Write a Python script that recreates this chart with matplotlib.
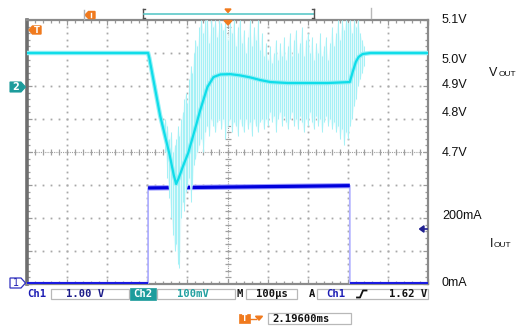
import matplotlib
matplotlib.use('Agg')
import matplotlib.pyplot as plt
import numpy as np
from matplotlib.patches import Polygon, Rectangle

# ---------------- data ----------------
# Ch2 : Vout (V) vs time (us)
vout_t = [0, 302, 305, 332, 355, 366, 372, 378, 390, 402, 418, 432, 450, 465, 482, 507,
          532, 557, 582, 607, 650, 700, 750, 805, 812, 820, 827, 837, 857, 1000]
vout_v = [5.0, 5.0, 4.985, 4.81, 4.695, 4.63, 4.603, 4.62, 4.66, 4.697, 4.765, 4.827,
          4.897, 4.927, 4.935, 4.936, 4.932, 4.926, 4.918, 4.912, 4.909, 4.909, 4.909,
          4.912, 4.942, 4.973, 4.988, 4.997, 5.0, 5.0]

# Ch2 noise spikes (time, upper V, lower V)
noise_t = [345, 350, 355, 360, 364, 368, 372, 376, 380, 384, 388, 392, 396, 400, 404, 408,
           412, 416, 420, 425, 430, 435, 440, 445, 450, 455, 460, 465, 470, 475, 480, 485,
           490, 495, 500, 505, 510, 515, 520, 525, 530, 535, 540, 545, 550, 555, 560, 565,
           570, 575, 580, 585, 590, 595, 600, 605, 610, 615, 620, 625, 630, 635, 640, 645,
           650, 655, 660, 665, 670, 675, 680, 685, 690, 695, 700, 705, 710, 715, 720, 725,
           730, 735, 740, 745, 750, 755, 760, 765, 770, 775, 780, 785, 790, 795, 800, 805,
           810, 815, 820, 825, 830, 835, 840]
noise_hi = [4.80, 4.78, 4.74, 4.76, 4.70, 4.72, 4.74, 4.78, 4.75, 4.80, 4.82, 4.86, 4.88, 4.85, 4.92, 4.96,
            4.94, 5.00, 5.04, 5.02, 5.08, 5.10, 5.06, 5.10, 5.10, 5.03, 5.10, 5.08, 5.10, 5.05, 5.10, 5.09,
            5.07, 5.10, 5.04, 5.10, 5.06, 5.10, 5.02, 5.08, 5.10, 5.03, 5.07, 5.00, 5.05, 5.10, 5.02, 5.08,
            5.04, 5.10, 5.01, 5.06, 4.99, 5.03, 4.98, 5.02, 4.97, 5.00, 5.04, 4.98, 5.03, 4.99, 5.05, 4.98,
            5.02, 5.06, 4.99, 5.04, 5.07, 5.00, 5.03, 5.08, 4.99, 5.04, 5.06, 5.00, 5.05, 4.98, 5.03, 5.00,
            5.06, 4.99, 5.02, 5.05, 4.98, 5.03, 5.08, 5.02, 5.06, 5.10, 5.04, 5.10, 5.07, 5.10, 5.09, 5.10,
            5.06, 5.10, 5.08, 5.10, 5.06, 5.04, 5.02]
noise_lo = [4.70, 4.62, 4.56, 4.50, 4.45, 4.40, 4.42, 4.36, 4.35, 4.50, 4.55, 4.52, 4.58, 4.60, 4.62, 4.55,
            4.60, 4.66, 4.68, 4.70, 4.72, 4.74, 4.70, 4.76, 4.78, 4.75, 4.80, 4.78, 4.76, 4.79, 4.80, 4.77,
            4.80, 4.74, 4.78, 4.80, 4.76, 4.79, 4.78, 4.75, 4.80, 4.78, 4.76, 4.80, 4.77, 4.79, 4.75, 4.80,
            4.78, 4.76, 4.79, 4.80, 4.77, 4.80, 4.78, 4.82, 4.79, 4.81, 4.76, 4.80, 4.82, 4.78, 4.81, 4.79,
            4.77, 4.80, 4.82, 4.78, 4.80, 4.77, 4.81, 4.79, 4.76, 4.80, 4.78, 4.82, 4.79, 4.77, 4.81, 4.78,
            4.80, 4.76, 4.79, 4.81, 4.78, 4.80, 4.77, 4.79, 4.76, 4.78, 4.74, 4.77, 4.72, 4.76, 4.74, 4.78,
            4.80, 4.84, 4.86, 4.90, 4.92, 4.94, 4.96]

# Ch1 : Iout (mA) vs time (us)
iout_t = [0, 302, 302, 805, 805, 1000]
iout_ma = [3, 3, 291, 298, 3, 3]

# right-hand annotation labels
right_labels = ['5.1V', '5.0V', '4.9V', '4.8V', '4.7V', '200mA', '0mA']

# ---------------- figure ----------------
W, H = 520, 330
fig = plt.figure(figsize=(W / 100, H / 100), dpi=100)
fig.patch.set_facecolor('white')

L, R, T, B = 27, 428, 20, 284
ax = fig.add_axes([L / W, 1 - B / H, (R - L) / W, (B - T) / H])
ax.set_xlim(0, 1000)
ax.set_ylim(0, 800)
ax2 = ax.twinx()
ax2.set_ylim(4.3, 5.1)

gray = '#9a9a9a'
for a in (ax, ax2):
    for s in a.spines.values():
        s.set_visible(False)
for side, s in ax.spines.items():
    s.set_visible(True)
    s.set_color('#8a8a8a')
    s.set_linewidth(1.6)
ax.spines['left'].set_linewidth(2.6)
ax.spines['left'].set_color('#6e6e6e')

ax.set_xticks(np.arange(0, 1001, 100))
ax.set_xticks(np.arange(0, 1001, 20), minor=True)
ax.set_yticks(np.arange(0, 801, 100))
ax.set_yticks(np.arange(0, 801, 20), minor=True)
ax.tick_params(which='both', direction='in', top=True, right=True, bottom=True, left=True,
               labelbottom=False, labelleft=False, labelright=False, labeltop=False,
               color=gray, width=0.9)
ax.tick_params(which='major', length=3.5)
ax.tick_params(which='minor', length=2.5)
ax2.set_yticks([])
ax2.tick_params(right=False, labelright=False)

# dotted grid
xs_minor = np.arange(0, 1001, 20)
ys_minor = np.arange(0, 801, 20)
for xv in range(100, 1000, 100):
    if xv == 500:
        continue
    ax.plot([xv] * len(ys_minor), ys_minor, ls='none', marker='s', ms=1.3, mew=0,
            color='#a8a8a8', zorder=1)
for yv in range(100, 800, 100):
    if yv == 400:
        continue
    ax.plot(xs_minor, [yv] * len(xs_minor), ls='none', marker='s', ms=1.3, mew=0,
            color='#a8a8a8', zorder=1)
# centre crosshair
ax.plot([500, 500], [0, 800], color='#a0a0a0', lw=0.8, ls=(0, (1, 1)), zorder=1)
ax.plot([500] * len(ys_minor), ys_minor, ls='none', marker='_', ms=4, mew=0.9,
        color='#a0a0a0', zorder=1)
ax.plot([0, 1000], [400, 400], color='#a0a0a0', lw=0.8, ls=(0, (1, 1)), zorder=1)
ax.plot(xs_minor, [400] * len(xs_minor), ls='none', marker='|', ms=4, mew=0.9,
        color='#a0a0a0', zorder=1)

# Ch1 trace (Iout)
ax.plot(iout_t, iout_ma, color='#b0b0ff', lw=1.3, zorder=3)
for i in range(len(iout_t) - 1):
    if iout_t[i] != iout_t[i + 1]:
        seg_x = iout_t[i:i + 2]
        seg_y = iout_ma[i:i + 2]
        high = seg_y[0] > 100
        ax.plot(seg_x, seg_y, color='#9a9aff', lw=3.8 if high else 2.4, zorder=3,
                solid_capstyle='butt')
        ax.plot(seg_x, seg_y, color='#0000dc', lw=2.3 if high else 1.2, zorder=3,
                solid_capstyle='butt')

# Ch2 noise and trace (Vout)
ax2.fill_between(noise_t, noise_lo, noise_hi, color='#e6fbfd', lw=0, zorder=4)
ax2.vlines(noise_t, noise_lo, noise_hi, color='#a6f1f6', lw=0.75, zorder=4)
ax2.plot(vout_t, vout_v, color='#95f0f6', lw=3.2, zorder=5, solid_joinstyle='round')
ax2.plot(vout_t, vout_v, color='#10dde9', lw=1.6, zorder=6, solid_joinstyle='round')

# ---------------- overlay decorations (pixel coords) ----------------
ov = fig.add_axes([0, 0, 1, 1])
ov.set_xlim(0, W)
ov.set_ylim(H, 0)
ov.axis('off')
ov.patch.set_alpha(0)

orange = '#f07a1e'
teal = '#1d9c9c'
blue = '#1c1cb4'

# right labels
label_y = [20, 60, 85.5, 113, 152.5, 216, 282.5]
for s, y in zip(right_labels, label_y):
    ov.text(442, y, s, fontsize=9, family='Liberation Sans', va='center', ha='left', color='#111111')
ov.text(488.5, 76.5, 'V', fontsize=9, family='Liberation Sans', va='baseline', color='#111111')
ov.text(498.5, 76.5, 'OUT', fontsize=6, family='Liberation Sans', va='baseline', color='#111111')
ov.text(489.5, 247, 'I', fontsize=9, family='Liberation Sans', va='baseline', color='#111111')
ov.text(493.5, 247, 'OUT', fontsize=6, family='Liberation Sans', va='baseline', color='#111111')

# left channel markers
ov.add_patch(Polygon([(10, 82), (21, 82), (25.5, 87), (21, 92), (10, 92)], closed=True,
                     facecolor=teal, edgecolor=teal, lw=0.8))
ov.text(16, 87.3, '2', color='white', fontsize=7, fontweight='bold', ha='center', va='center')
ov.add_patch(Polygon([(10, 278), (21, 278), (25.5, 283), (21, 288), (10, 288)], closed=True,
                     facecolor='white', edgecolor='#3030c0', lw=0.9))
ov.text(16, 283.3, '1', color='#2020b0', fontsize=7, ha='center', va='center')
# trigger "T" marker top-left inside plot
ov.add_patch(Polygon([(29, 30), (32.5, 26), (41, 26), (41, 34), (32.5, 34)], closed=True,
                     facecolor=orange, edgecolor=orange))
ov.text(36.5, 30.3, 'T', color='white', fontsize=6, fontweight='bold', ha='center', va='center')

# top decorations
ov.plot([83.5, 83.5], [9.5, 18.5], color='#b0b0b0', lw=1)
ov.add_patch(Polygon([(85, 15), (88.5, 11.5), (95, 11.5), (95, 18.5), (88.5, 18.5)], closed=True,
                     facecolor=orange, edgecolor=orange))
ov.plot([91, 91], [12.8, 17.2], color='white', lw=1)
ov.plot([142.5, 142.5], [9, 18], color='#505050', lw=1)
ov.plot([142.5, 144.5], [9, 9], color='#505050', lw=1)
ov.plot([142.5, 144.5], [18, 18], color='#505050', lw=1)
ov.plot([143.5, 313.5], [13.5, 13.5], color='#5cc8c8', lw=1.2)
ov.plot([314, 314], [9, 18], color='#505050', lw=1)
ov.plot([312, 314], [9, 9], color='#505050', lw=1)
ov.plot([312, 314], [18, 18], color='#505050', lw=1)
ov.add_patch(Polygon([(225, 9), (231, 9), (228, 12.5)], closed=True, facecolor=orange, edgecolor=orange))
ov.add_patch(Polygon([(224, 20.5), (232, 20.5), (228, 25)], closed=True, facecolor=orange, edgecolor=orange))
ov.plot([371, 371], [8, 18], color='#b8b8b8', lw=1)

# right blue ground arrow
ov.add_patch(Polygon([(419.5, 229), (424, 225.8), (424, 232.2)], closed=True,
                     facecolor='#202090', edgecolor='#202090'))
ov.plot([424, 427], [229, 229], color='#202090', lw=1.2)

# status bar
mono = 'DejaVu Sans Mono'
fs = 7.6
box_ec = '#b8b8b8'
ov.text(27.5, 294.3, 'Ch1', color=blue, fontsize=fs, family=mono, fontweight='bold', va='center')
ov.add_patch(Rectangle((51, 288.8), 78, 10.4, facecolor='white', edgecolor=box_ec, lw=0.9))
ov.text(85, 294.3, '1.00 V', color='#1a1a88', fontsize=fs, family=mono, fontweight='bold',
        va='center', ha='center')
ov.add_patch(Rectangle((130, 288.3), 26, 11.2, facecolor=teal, edgecolor=teal, lw=0.5))
ov.text(143, 294.3, 'Ch2', color='white', fontsize=fs, family=mono, fontweight='bold',
        va='center', ha='center')
ov.add_patch(Rectangle((157, 288.8), 78, 10.4, facecolor='white', edgecolor=box_ec, lw=0.9))
ov.text(193, 294.3, '100mV', color='#22a0a0', fontsize=fs, family=mono, fontweight='bold',
        va='center', ha='center')
ov.text(236.5, 294.3, 'M', color='#111111', fontsize=fs, family=mono, fontweight='bold', va='center')
ov.add_patch(Rectangle((246, 288.8), 51, 10.4, facecolor='white', edgecolor=box_ec, lw=0.9))
ov.text(271.5, 294.3, '100µs', color='#111111', fontsize=fs, family=mono, fontweight='bold',
        va='center', ha='center')
ov.text(308.5, 294.3, 'A', color='#111111', fontsize=fs, family=mono, fontweight='bold', va='center')
ov.add_patch(Rectangle((317, 288.8), 111, 10.4, facecolor='white', edgecolor=box_ec, lw=0.9))
ov.text(326, 294.3, 'Ch1', color=blue, fontsize=fs, family=mono, fontweight='bold', va='center')
ov.plot([357, 360, 363, 366.5], [297.5, 297.5, 290.5, 290.5], color='#111111', lw=1.3)
ov.text(427, 294.3, '1.62 V', color='#111111', fontsize=fs, family=mono, fontweight='bold',
        va='center', ha='right')

# second status row
ov.add_patch(Rectangle((239, 314), 10.5, 9, facecolor=orange, edgecolor=orange, lw=0.5))
ov.text(244.3, 318.7, 'T', color='white', fontsize=5.5, fontweight='bold', ha='center', va='center')
ov.plot([250, 256], [318.5, 318.5], color=orange, lw=1)
ov.add_patch(Polygon([(255.5, 316.2), (262.5, 316.2), (259, 320.2)], closed=True,
                     facecolor=orange, edgecolor=orange))
ov.add_patch(Rectangle((268, 313), 83, 10.5, facecolor='white', edgecolor=box_ec, lw=0.9))
ov.text(272, 318.5, '2.19600ms', color='#111111', fontsize=fs, family=mono, fontweight='bold',
        va='center', ha='left')

fig.savefig('out.png', dpi=100, facecolor='white')
